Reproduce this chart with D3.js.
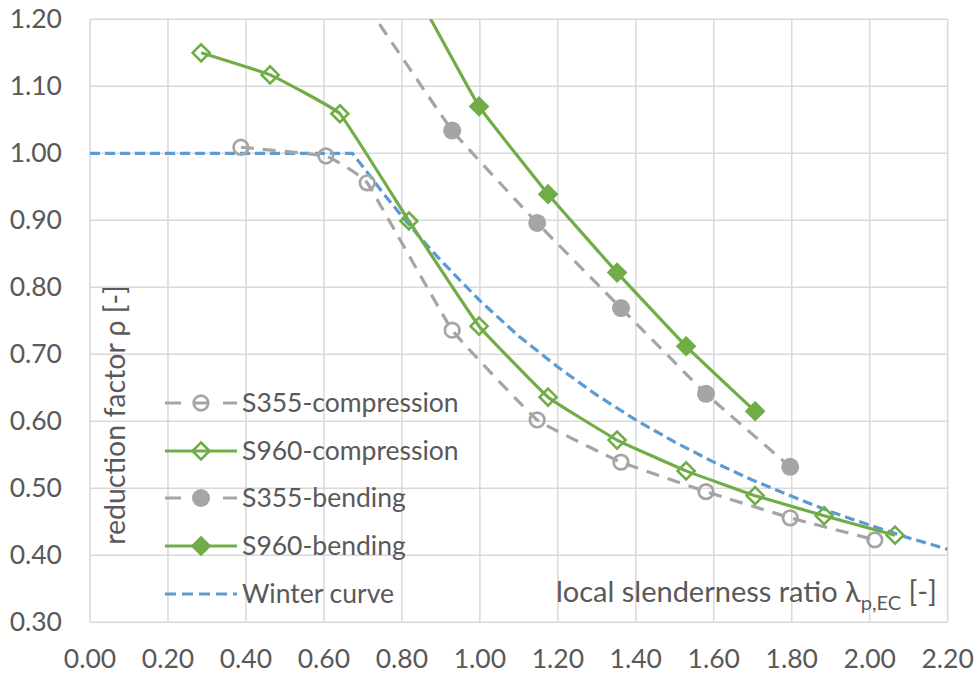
<!DOCTYPE html>
<html>
<head>
<meta charset="utf-8">
<script src="https://cdn.jsdelivr.net/npm/d3@7"></script>
<style>
  body { margin: 0; background: #fff; }
  text { font-family: "Lato", "Open Sans", sans-serif; fill: #595959; }
</style>
</head>
<body>
<svg width="979" height="673"></svg>
<script>
  // values
  var xTicks = [0, 0.2, 0.4, 0.6, 0.8, 1.0, 1.2, 1.4, 1.6, 1.8, 2.0, 2.2];
  var yTicks = [0.3, 0.4, 0.5, 0.6, 0.7, 0.8, 0.9, 1.0, 1.1, 1.2];

  var s355CompX = [0.387, 0.605, 0.711, 0.929, 1.147, 1.362, 1.580, 1.796, 2.013];
  var s355CompY = [1.009, 0.996, 0.956, 0.736, 0.602, 0.539, 0.495, 0.456, 0.423];

  var s960CompX = [0.285, 0.462, 0.641, 0.818, 0.998, 1.175, 1.352, 1.529, 1.706, 1.883, 2.065];
  var s960CompY = [1.150, 1.117, 1.059, 0.899, 0.742, 0.636, 0.572, 0.526, 0.489, 0.459, 0.430];

  var s355BendX = [0.711, 0.929, 1.147, 1.362, 1.580, 1.796];
  var s355BendY = [1.220, 1.034, 0.896, 0.769, 0.641, 0.532];

  var s960BendX = [0.818, 0.998, 1.175, 1.352, 1.529, 1.706];
  var s960BendY = [1.260, 1.070, 0.939, 0.822, 0.712, 0.615];

  var winterX = [0, 0.2, 0.4, 0.6, 0.673, 0.7, 0.75, 0.8, 0.85, 0.9, 1.0, 1.1, 1.2, 1.3, 1.4, 1.5, 1.6, 1.7, 1.8, 1.9, 2.0, 2.1, 2.2];
  var winterY = [1.0, 1.0, 1.0, 1.0, 1.0, 0.980, 0.942, 0.906, 0.872, 0.840, 0.780, 0.727, 0.681, 0.639, 0.602, 0.569, 0.539, 0.512, 0.488, 0.465, 0.445, 0.426, 0.409];

  var svg = d3.select("svg"),
    plotLeft = 90,
    plotRight = 947.7,
    plotTop = 19.3,
    plotBottom = 622.3;

  var x = d3.scaleLinear().domain([0, 2.2]).range([plotLeft, plotRight]);
  var y = d3.scaleLinear().domain([0.3, 1.2]).range([plotBottom, plotTop]);

  function zip(xs, ys) {
    return xs.map(function (v, i) {
      return { x: v, y: ys[i] };
    });
  }

  // grid
  var grid = svg.append("g").attr("stroke", "#d9d9d9").attr("stroke-width", 1.5);
  grid
    .selectAll("line.v")
    .data(xTicks)
    .enter()
    .append("line")
    .attr("x1", function (d) { return x(d); })
    .attr("x2", function (d) { return x(d); })
    .attr("y1", plotTop)
    .attr("y2", plotBottom);
  grid
    .selectAll("line.h")
    .data(yTicks)
    .enter()
    .append("line")
    .attr("x1", plotLeft)
    .attr("x2", plotRight)
    .attr("y1", function (d) { return y(d); })
    .attr("y2", function (d) { return y(d); });

  // tick labels
  svg
    .append("g")
    .selectAll("text")
    .data(xTicks)
    .enter()
    .append("text")
    .attr("x", function (d) { return x(d); })
    .attr("y", 668)
    .attr("text-anchor", "middle")
    .style("font-size", "26.5px")
    .text(function (d) { return d.toFixed(2); });

  svg
    .append("g")
    .selectAll("text")
    .data(yTicks)
    .enter()
    .append("text")
    .attr("x", 62)
    .attr("y", function (d) { return y(d) + 9; })
    .attr("text-anchor", "end")
    .style("font-size", "26.5px")
    .text(function (d) { return d.toFixed(2); });

  // axis titles
  svg
    .append("text")
    .attr("transform", "translate(125,415) rotate(-90)")
    .attr("text-anchor", "middle")
    .style("font-size", "28.5px")
    .text("reduction factor ρ [-]");

  var xt = svg
    .append("text")
    .attr("x", 937)
    .attr("y", 602)
    .attr("text-anchor", "end")
    .style("font-size", "29px");
  xt.append("tspan").text("local slenderness ratio λ");
  xt.append("tspan").attr("dy", 8).style("font-size", "20px").text("p,EC");
  xt.append("tspan").attr("dy", -8).text(" [-]");

  // series
  svg
    .append("clipPath")
    .attr("id", "plot")
    .append("rect")
    .attr("x", plotLeft)
    .attr("y", plotTop)
    .attr("width", plotRight - plotLeft)
    .attr("height", plotBottom - plotTop);

  var smooth = d3
    .line()
    .x(function (d) { return x(d.x); })
    .y(function (d) { return y(d.y); })
    .curve(d3.curveCardinal.tension(0.75));

  var straight = d3
    .line()
    .x(function (d) { return x(d.x); })
    .y(function (d) { return y(d.y); });

  var series = [
    { name: "S355-compression", data: zip(s355CompX, s355CompY), color: "#a5a5a5", dash: "13,9", marker: "circle", fill: false },
    { name: "S960-compression", data: zip(s960CompX, s960CompY), color: "#70ad47", dash: null, marker: "diamond", fill: false },
    { name: "S355-bending", data: zip(s355BendX, s355BendY), color: "#a5a5a5", dash: "13,9", marker: "circle", fill: true },
    { name: "S960-bending", data: zip(s960BendX, s960BendY), color: "#70ad47", dash: null, marker: "diamond", fill: true }
  ];

  var plot = svg.append("g").attr("clip-path", "url(#plot)");

  plot
    .append("path")
    .datum(zip(winterX, winterY))
    .attr("fill", "none")
    .attr("stroke", "#5b9bd5")
    .attr("stroke-width", 3.2)
    .attr("stroke-dasharray", "10,5")
    .attr("d", straight);

  var diamondSym = "M0,-8.5L8.5,0L0,8.5L-8.5,0Z";

  function drawMarker(g, s, fill) {
    if (s.marker == "circle") {
      g.append("circle")
        .attr("r", fill ? 9 : 7.3)
        .attr("fill", fill ? s.color : "none")
        .attr("stroke", fill ? "none" : s.color)
        .attr("stroke-width", 2.7);
    } else {
      g.append("path")
        .attr("d", diamondSym)
        .attr("fill", fill ? s.color : "none")
        .attr("stroke", s.color)
        .attr("stroke-width", 2.6);
    }
  }

  series.forEach(function (s) {
    plot
      .append("path")
      .datum(s.data)
      .attr("fill", "none")
      .attr("stroke", s.color)
      .attr("stroke-width", 3.2)
      .attr("stroke-dasharray", s.dash)
      .attr("d", smooth);

    plot
      .append("g")
      .selectAll("g")
      .data(s.data)
      .enter()
      .append("g")
      .attr("transform", function (d) {
        return "translate(" + x(d.x) + "," + y(d.y) + ")";
      })
      .each(function () {
        drawMarker(d3.select(this), s, s.fill);
      });
  });

  // legend
  var legend = svg.append("g");
  var rows = series.concat([{ name: "Winter curve", color: "#5b9bd5", dash: "11,6", marker: null }]);
  var rowY = [403, 451, 498, 546, 594];

  rows.forEach(function (s, i) {
    var g = legend.append("g").attr("transform", "translate(0," + rowY[i] + ")");
    g.append("line")
      .attr("x1", 165)
      .attr("x2", 237)
      .attr("stroke", s.color)
      .attr("stroke-width", 3.2)
      .attr("stroke-dasharray", s.marker ? (s.dash ? "16,13,14,15,14" : null) : s.dash);
    if (s.marker) {
      var m = g.append("g").attr("transform", "translate(201,0)");
      drawMarker(m, s, s.fill);
    }
    g.append("text")
      .attr("x", 242)
      .attr("y", 9)
      .style("font-size", "26.5px")
      .text(s.name);
  });
</script>
</body>
</html>
